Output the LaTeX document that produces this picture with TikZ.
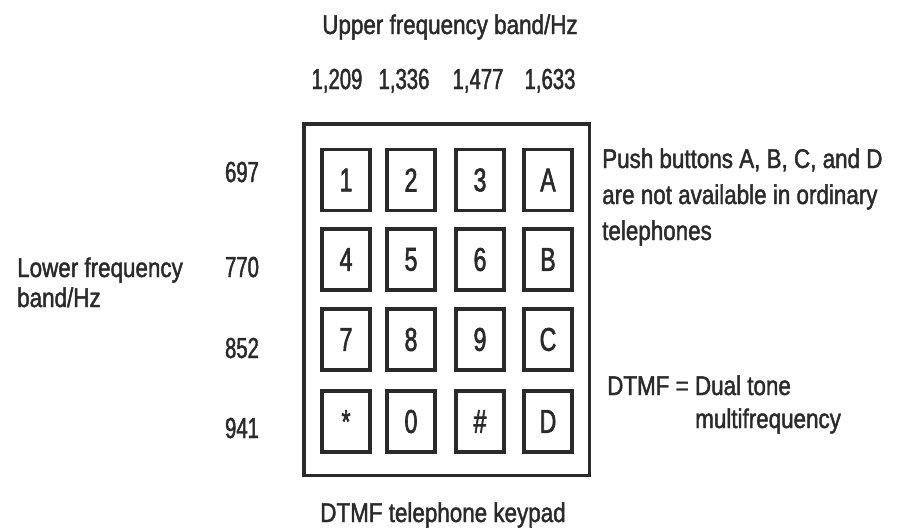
\documentclass[tikz,border=0pt]{standalone}
\usepackage{fontspec}
\setmainfont{Liberation Sans}[FakeStretch=0.83, FakeBold=1.6]
\newfontfamily\numfont{Liberation Sans}[FakeStretch=0.70, FakeBold=1.6]
\newfontfamily\keyfont{Liberation Sans}[FakeStretch=0.70, FakeBold=1.8]
\definecolor{ink}{HTML}{2A2A2A}
\tikzset{
  keybox/.style={draw=ink, line width=3.8pt, minimum width=48pt, minimum height=61pt,
    inner sep=0pt, text=ink, font=\keyfont\fontsize{33}{33}\selectfont},
  frame/.style={draw=ink, line width=3.5pt, inner sep=0pt},
  lbl/.style={anchor=base west, inner sep=0pt, text=ink, font=\fontsize{27}{27}\selectfont},
  clbl/.style={anchor=base, inner sep=0pt, text=ink, font=\fontsize{27}{27}\selectfont},
  freq/.style={anchor=base, inner sep=0pt, text=ink, font=\numfont\fontsize{29}{29}\selectfont},
}
\begin{document}
\begin{tikzpicture}[x=1pt,y=-1pt]
\useasboundingbox (0,0) rectangle (899,531);
% outer frame
\node[frame, minimum width=285.5pt, minimum height=351.5pt] (pad) at (446.5,299.5) {};
% keys
\node[keybox] (k1) at (346,180) {1};
\node[keybox] (k2) at (411,180) {2};
\node[keybox] (k3) at (480,180) {3};
\node[keybox] (kA) at (548,180) {A};
\node[keybox] (k4) at (346,259.5) {4};
\node[keybox] (k5) at (411,259.5) {5};
\node[keybox] (k6) at (480,259.5) {6};
\node[keybox] (kB) at (548,259.5) {B};
\node[keybox] (k7) at (346,339.5) {7};
\node[keybox] (k8) at (411,339.5) {8};
\node[keybox] (k9) at (480,339.5) {9};
\node[keybox] (kC) at (548,339.5) {C};
\node[keybox] (kst) at (346,421.5) {*};
\node[keybox] (k0) at (411,421.5) {0};
\node[keybox] (kh) at (480,421.5) {\#};
\node[keybox] (kD) at (548,421.5) {D};
% upper band
\node[clbl] (title) at (450,34) {Upper frequency band/Hz};
\node[freq] (f1) at (337,89) {1,209};
\node[freq] (f2) at (404,89) {1,336};
\node[freq] (f3) at (478,89) {1,477};
\node[freq] (f4) at (550,89) {1,633};
% lower band
\node[freq] (r1) at (242,182) {697};
\node[freq] (r2) at (242,277) {770};
\node[freq] (r3) at (242,358) {852};
\node[freq] (r4) at (242,438) {941};
\node[lbl] (low1) at (17,277) {Lower frequency};
\node[lbl] (low2) at (17,307) {band/Hz};
% notes
\node[lbl] (n1) at (602,168) {Push buttons A, B, C, and D};
\node[lbl] (n2) at (602,204) {are not available in ordinary};
\node[lbl] (n3) at (602,240) {telephones};
\node[lbl] (d1) at (607,395) {DTMF = Dual tone};
\node[lbl] (d2) at (695,428) {multifrequency};
% caption
\node[clbl] (cap) at (443,522) {DTMF telephone keypad};
\end{tikzpicture}
\end{document}
